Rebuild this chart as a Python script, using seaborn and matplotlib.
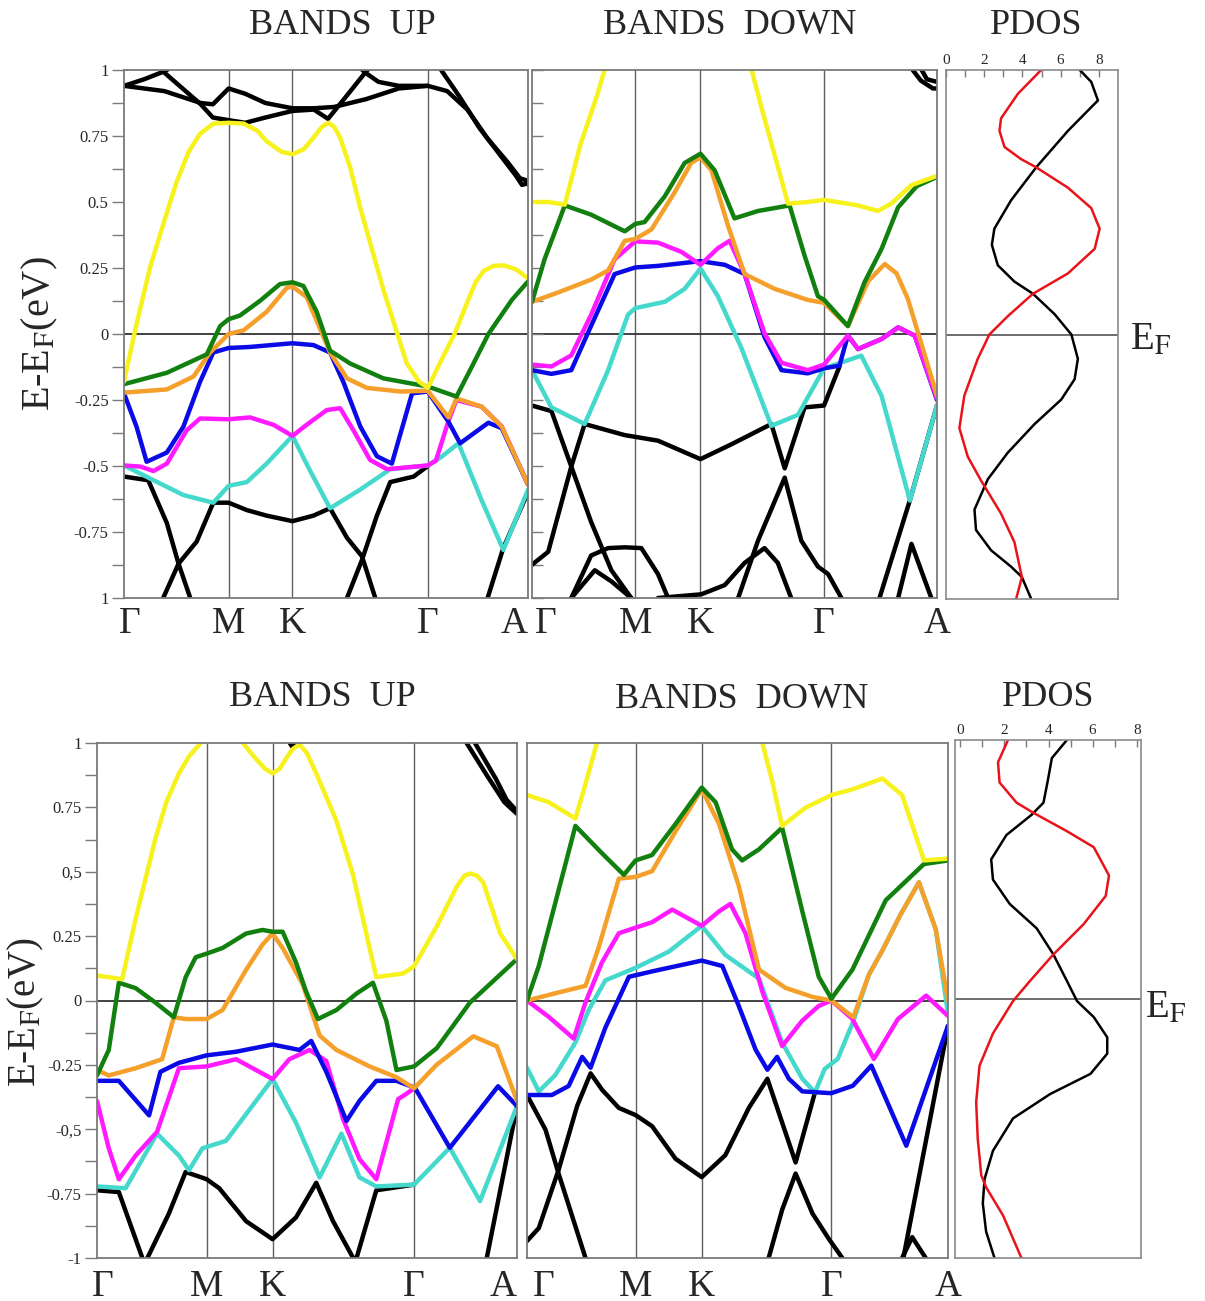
import matplotlib
matplotlib.use("Agg")
import matplotlib.pyplot as plt
import matplotlib.transforms as mtransforms
import seaborn as sns
import pandas as pd
import numpy as np

# ---------------- DATA ----------------
K_LABELS = ["Γ", "M", "K", "Γ", "A"]
TL_KPTS = [0, 0.259, 0.417, 0.752, 1.0]
TM_KPTS = [0, 0.255, 0.416, 0.721, 1.0]
BL_KPTS = [0, 0.261, 0.418, 0.755, 1.0]
BM_KPTS = [0, 0.258, 0.415, 0.723, 1.0]

Y_TICKS = [-1, -0.75, -0.5, -0.25, 0, 0.25, 0.5, 0.75, 1]
TL_YLABELS = ["1", "-0.75", "-0.5", "-0.25", "0", "0.25", "0.5", "0.75", "1"]
BL_YLABELS = ["-1", "-0.75", "-0,5", "-0.25", "0", "0.25", "0,5", "0.75", "1"]
PDOS_TICKS = [0, 2, 4, 6, 8]

# --- top row, spin up ---
TL_YELLOW = [(0, -0.18), (0.03, 0.03), (0.064, 0.25), (0.10, 0.43), (0.130, 0.575), (0.16, 0.69), (0.188, 0.758),
             (0.221, 0.797), (0.259, 0.80), (0.296, 0.797), (0.33, 0.77), (0.353, 0.73), (0.39, 0.69), (0.417, 0.681),
             (0.445, 0.70), (0.469, 0.744), (0.49, 0.785), (0.506, 0.80), (0.52, 0.785), (0.535, 0.744),
             (0.56, 0.63), (0.585, 0.477), (0.642, 0.168), (0.700, -0.112), (0.73, -0.18), (0.752, -0.204),
             (0.786, -0.098), (0.819, 0.003), (0.852, 0.129), (0.870, 0.195), (0.890, 0.239), (0.915, 0.258),
             (0.94, 0.26), (0.97, 0.245), (1.0, 0.211)]
TL_GREEN = [(0, -0.19), (0.106, -0.147), (0.205, -0.077), (0.238, 0.03), (0.259, 0.056), (0.287, 0.07), (0.337, 0.126),
            (0.386, 0.189), (0.417, 0.196), (0.444, 0.182), (0.477, 0.084), (0.51, -0.063), (0.56, -0.112),
            (0.642, -0.168), (0.752, -0.199), (0.823, -0.237), (0.861, -0.124), (0.902, 0.0), (0.96, 0.129), (1.0, 0.199)]
TL_ORANGE = [(0, -0.222), (0.106, -0.21), (0.172, -0.161), (0.213, -0.07), (0.259, 0.0), (0.296, 0.014), (0.353, 0.084),
             (0.403, 0.175), (0.417, 0.18), (0.452, 0.14), (0.51, -0.07), (0.552, -0.168), (0.601, -0.204),
             (0.684, -0.218), (0.752, -0.215), (0.803, -0.316), (0.823, -0.244), (0.885, -0.275), (0.935, -0.351),
             (1.0, -0.57)]
TL_BLUE = [(0, -0.225), (0.031, -0.351), (0.056, -0.484), (0.106, -0.449), (0.147, -0.351), (0.188, -0.182),
           (0.221, -0.07), (0.259, -0.053), (0.312, -0.049), (0.417, -0.035), (0.469, -0.042), (0.51, -0.07),
           (0.543, -0.182), (0.585, -0.351), (0.626, -0.463), (0.663, -0.491), (0.713, -0.225), (0.752, -0.218),
           (0.803, -0.332), (0.832, -0.414), (0.902, -0.336), (0.935, -0.357), (1.0, -0.57)]
TL_MAGENTA = [(0, -0.498), (0.04, -0.502), (0.073, -0.519), (0.106, -0.491), (0.155, -0.365), (0.188, -0.32),
              (0.259, -0.323), (0.312, -0.316), (0.37, -0.344), (0.417, -0.386), (0.452, -0.344), (0.502, -0.288),
              (0.535, -0.281), (0.568, -0.365), (0.609, -0.477), (0.651, -0.512), (0.752, -0.498), (0.772, -0.48),
              (0.803, -0.33), (0.823, -0.25), (0.885, -0.275), (0.935, -0.35), (1.0, -0.57)]
TL_CYAN = [(0, -0.498), (0.064, -0.547), (0.147, -0.61), (0.221, -0.639), (0.259, -0.575), (0.304, -0.561),
           (0.353, -0.491), (0.417, -0.386), (0.461, -0.519), (0.51, -0.66), (0.585, -0.589), (0.659, -0.512),
           (0.752, -0.498), (0.786, -0.465), (0.828, -0.414), (0.885, -0.629), (0.939, -0.818), (1.0, -0.59)]
TL_BLACK_1 = [(0, 0.94), (0.05, 0.965), (0.1, 0.995), (0.14, 1.03)]
TL_BLACK_2 = [(0.09, 1.03), (0.1, 0.99), (0.19, 0.87), (0.22, 0.82), (0.259, 0.81), (0.30, 0.80), (0.35, 0.82),
              (0.417, 0.845), (0.47, 0.85), (0.505, 0.815), (0.55, 0.9), (0.597, 0.99), (0.62, 1.03)]
TL_BLACK_3 = [(0, 0.94), (0.1, 0.92), (0.19, 0.875), (0.22, 0.87), (0.259, 0.93), (0.3, 0.91), (0.35, 0.875),
              (0.417, 0.855), (0.47, 0.855), (0.52, 0.86), (0.6, 0.89), (0.68, 0.93), (0.752, 0.94), (0.8, 0.92),
              (0.85, 0.85), (0.9, 0.74), (0.95, 0.65), (0.98, 0.59), (1.0, 0.58)]
TL_BLACK_4 = [(0.57, 1.03), (0.597, 0.99), (0.63, 0.955), (0.68, 0.94), (0.752, 0.94)]
TL_BLACK_5 = [(0.785, 1.0), (0.83, 0.9), (0.88, 0.78), (0.93, 0.68), (0.97, 0.6), (0.985, 0.565), (1.0, 0.57)]
TL_BLACK_6 = [(0, -0.54), (0.06, -0.554), (0.106, -0.716), (0.135, -0.87), (0.164, -1.0)]
TL_BLACK_7 = [(0.097, -1.0), (0.135, -0.87), (0.18, -0.786), (0.221, -0.639), (0.259, -0.639), (0.304, -0.667),
              (0.353, -0.688), (0.417, -0.709), (0.469, -0.688), (0.51, -0.66), (0.552, -0.772), (0.589, -0.842),
              (0.622, -1.0)]
TL_BLACK_8 = [(0.552, -1.0), (0.589, -0.856), (0.626, -0.688), (0.659, -0.561), (0.717, -0.54), (0.752, -0.5)]
TL_BLACK_9 = [(0.9, -1.0), (0.939, -0.81), (1.0, -0.6)]

# --- top row, spin down ---
TM_YELLOW_1 = [(0, 0.5), (0.04, 0.5), (0.081, 0.49), (0.12, 0.72), (0.16, 0.9), (0.185, 1.03)]
TM_YELLOW_2 = [(0.537, 1.03), (0.574, 0.816), (0.607, 0.634), (0.632, 0.494), (0.681, 0.5), (0.721, 0.508),
               (0.805, 0.487), (0.854, 0.466), (0.887, 0.494), (0.937, 0.564), (1.0, 0.599)]
TM_GREEN = [(0, 0.122), (0.031, 0.283), (0.081, 0.487), (0.146, 0.452), (0.229, 0.389), (0.255, 0.417),
            (0.278, 0.424), (0.328, 0.522), (0.377, 0.648), (0.416, 0.683), (0.451, 0.62), (0.5, 0.438),
            (0.558, 0.466), (0.636, 0.487), (0.673, 0.297), (0.706, 0.143), (0.721, 0.13), (0.78, 0.03),
            (0.821, 0.196), (0.863, 0.322), (0.904, 0.48), (0.95, 0.56), (1.0, 0.595)]
TM_ORANGE = [(0, 0.122), (0.064, 0.157), (0.146, 0.206), (0.188, 0.241), (0.229, 0.353), (0.255, 0.36),
             (0.295, 0.396), (0.352, 0.536), (0.393, 0.648), (0.416, 0.669), (0.443, 0.62), (0.484, 0.41),
             (0.525, 0.227), (0.599, 0.171), (0.681, 0.129), (0.721, 0.118), (0.78, 0.03), (0.83, 0.2),
             (0.871, 0.265), (0.9, 0.23), (0.928, 0.133), (0.96, -0.03), (1.0, -0.234)]
TM_BLUE = [(0, -0.137), (0.048, -0.151), (0.097, -0.137), (0.146, 0.031), (0.204, 0.227), (0.255, 0.252),
           (0.311, 0.258), (0.416, 0.276), (0.476, 0.262), (0.525, 0.227), (0.574, -0.011), (0.616, -0.137),
           (0.681, -0.149), (0.721, -0.13), (0.759, -0.12), (0.78, -0.006), (0.805, -0.057), (0.863, -0.019),
           (0.904, 0.025), (0.945, -0.006), (1.0, -0.25)]
TM_MAGENTA = [(0, -0.116), (0.048, -0.123), (0.097, -0.081), (0.146, 0.073), (0.204, 0.283), (0.255, 0.351),
              (0.311, 0.346), (0.369, 0.311), (0.416, 0.262), (0.459, 0.325), (0.488, 0.353), (0.525, 0.227),
              (0.574, 0.003), (0.616, -0.109), (0.681, -0.137), (0.721, -0.116), (0.78, -0.006), (0.805, -0.057),
              (0.863, -0.019), (0.904, 0.025), (0.945, -0.006), (1.0, -0.245)]
TM_CYAN = [(0, -0.137), (0.048, -0.278), (0.13, -0.341), (0.188, -0.137), (0.237, 0.073), (0.255, 0.098),
           (0.328, 0.122), (0.377, 0.171), (0.416, 0.248), (0.459, 0.143), (0.517, -0.053), (0.591, -0.348),
           (0.657, -0.306), (0.721, -0.13), (0.76, -0.11), (0.813, -0.082), (0.863, -0.234), (0.933, -0.631),
           (1.0, -0.27)]
TM_BLACK_1 = [(0, -0.271), (0.048, -0.292), (0.097, -0.502), (0.146, -0.712), (0.196, -0.895), (0.245, -1.0)]
TM_BLACK_2 = [(0, -0.874), (0.04, -0.825), (0.097, -0.502), (0.13, -0.341), (0.229, -0.383), (0.311, -0.404),
              (0.416, -0.474), (0.492, -0.418), (0.591, -0.341), (0.624, -0.509), (0.673, -0.278), (0.721, -0.271),
              (0.76, -0.12)]
TM_BLACK_3 = [(0.509, -1.0), (0.558, -0.783), (0.624, -0.544), (0.665, -0.783), (0.706, -0.881), (0.731, -0.909),
              (0.764, -1.0)]
TM_BLACK_4 = [(0.097, -1.0), (0.146, -0.839), (0.188, -0.811), (0.229, -0.808), (0.27, -0.811), (0.311, -0.909),
              (0.336, -1.0)]
TM_BLACK_5 = [(0.097, -1.0), (0.155, -0.895), (0.196, -0.937), (0.245, -1.0)]
TM_BLACK_6 = [(0.311, -1.0), (0.418, -0.986), (0.476, -0.951), (0.525, -0.867), (0.574, -0.811), (0.607, -0.867),
              (0.64, -1.0)]
TM_BLACK_7 = [(0.858, -1.0), (0.933, -0.63), (1.0, -0.27)]
TM_BLACK_8 = [(0.904, -1.0), (0.937, -0.795), (0.986, -1.0)]
TM_BLACK_9 = [(0.93, 1.02), (0.96, 0.96), (0.99, 0.93), (1.0, 0.93)]
TM_BLACK_10 = [(0.955, 1.02), (0.975, 0.965), (1.0, 0.955)]

# --- bottom row, spin up ---
BL_YELLOW_1 = [(0, 0.097), (0.06, 0.083), (0.092, 0.317), (0.139, 0.628), (0.165, 0.77), (0.195, 0.882),
               (0.22, 0.95), (0.247, 1.0), (0.26, 1.03)]
BL_YELLOW_2 = [(0.335, 1.03), (0.347, 1.0), (0.378, 0.939), (0.40, 0.90), (0.418, 0.882), (0.435, 0.90),
               (0.45, 0.939), (0.465, 0.975), (0.482, 0.995), (0.50, 0.96), (0.522, 0.882), (0.57, 0.698),
               (0.61, 0.486), (0.649, 0.204), (0.665, 0.091), (0.729, 0.105), (0.755, 0.133), (0.809, 0.288),
               (0.857, 0.444), (0.875, 0.485), (0.888, 0.493), (0.905, 0.485), (0.92, 0.457), (0.96, 0.26),
               (1.0, 0.161)]
BL_GREEN = [(0, -0.291), (0.028, -0.192), (0.052, 0.069), (0.092, 0.048), (0.139, -0.008), (0.183, -0.065),
            (0.211, 0.09), (0.235, 0.168), (0.261, 0.182), (0.299, 0.204), (0.355, 0.26), (0.394, 0.274),
            (0.418, 0.267), (0.442, 0.267), (0.474, 0.147), (0.498, 0.034), (0.526, -0.072), (0.57, -0.037),
            (0.618, 0.027), (0.657, 0.069), (0.689, -0.079), (0.713, -0.27), (0.755, -0.256), (0.809, -0.185),
            (0.888, -0.008), (1.0, 0.161)]
BL_ORANGE = [(0, -0.27), (0.028, -0.291), (0.092, -0.263), (0.155, -0.228), (0.183, -0.065), (0.211, -0.072),
             (0.261, -0.072), (0.299, -0.037), (0.355, 0.119), (0.394, 0.217), (0.418, 0.26), (0.442, 0.204),
             (0.49, 0.062), (0.53, -0.136), (0.57, -0.192), (0.649, -0.256), (0.713, -0.298), (0.755, -0.341),
             (0.809, -0.249), (0.896, -0.139), (0.952, -0.178), (1.0, -0.39)]
BL_BLUE = [(0, -0.312), (0.052, -0.312), (0.124, -0.446), (0.151, -0.277), (0.195, -0.242), (0.261, -0.213),
           (0.331, -0.199), (0.418, -0.171), (0.482, -0.192), (0.51, -0.157), (0.546, -0.277), (0.594, -0.468),
           (0.625, -0.39), (0.665, -0.312), (0.713, -0.312), (0.757, -0.339), (0.84, -0.572), (0.955, -0.333),
           (1.0, -0.41)]
BL_MAGENTA = [(0, -0.39), (0.028, -0.574), (0.052, -0.694), (0.092, -0.602), (0.143, -0.51), (0.195, -0.263),
              (0.261, -0.256), (0.331, -0.228), (0.418, -0.305), (0.458, -0.228), (0.506, -0.192), (0.546, -0.235),
              (0.586, -0.461), (0.625, -0.616), (0.665, -0.694), (0.717, -0.383), (0.737, -0.362), (0.755, -0.341)]
BL_CYAN = [(0, -0.722), (0.068, -0.729), (0.143, -0.517), (0.195, -0.602), (0.219, -0.659), (0.251, -0.574),
           (0.307, -0.545), (0.418, -0.305), (0.474, -0.475), (0.53, -0.687), (0.582, -0.517), (0.625, -0.687),
           (0.665, -0.722), (0.755, -0.715), (0.84, -0.572), (0.912, -0.779), (1.0, -0.41)]
BL_BLACK_1 = [(0, -0.737), (0.052, -0.744), (0.108, -1.0)]
BL_BLACK_2 = [(0.12, -1.0), (0.171, -0.828), (0.211, -0.666), (0.261, -0.694), (0.291, -0.729), (0.355, -0.857),
              (0.418, -0.927), (0.474, -0.842), (0.522, -0.708), (0.562, -0.857), (0.61, -1.0)]
BL_BLACK_3 = [(0.618, -1.0), (0.665, -0.737), (0.755, -0.715)]
BL_BLACK_4 = [(0.928, -1.0), (1.0, -0.41)]
BL_BLACK_5 = [(0.88, 1.0), (0.93, 0.87), (0.97, 0.77), (1.0, 0.725)]
BL_BLACK_6 = [(0.90, 1.0), (0.95, 0.86), (0.975, 0.78), (1.0, 0.735)]
BL_BLACK_7 = [(0.455, 1.01), (0.465, 0.985), (0.475, 0.995), (0.48, 1.01)]

# --- bottom row, spin down ---
BM_YELLOW_1 = [(0, 0.798), (0.052, 0.77), (0.115, 0.707), (0.139, 0.841), (0.166, 1.0), (0.17, 1.03)]
BM_YELLOW_2 = [(0.555, 1.03), (0.559, 1.0), (0.582, 0.855), (0.606, 0.678), (0.662, 0.749), (0.723, 0.798),
               (0.773, 0.82), (0.844, 0.862), (0.891, 0.798), (0.943, 0.544), (1.0, 0.551)]
BM_GREEN = [(0, 0.0), (0.028, 0.134), (0.115, 0.678), (0.178, 0.572), (0.23, 0.488), (0.258, 0.544),
            (0.297, 0.565), (0.353, 0.686), (0.415, 0.827), (0.448, 0.77), (0.487, 0.587), (0.511, 0.544),
            (0.551, 0.587), (0.606, 0.671), (0.654, 0.346), (0.693, 0.092), (0.723, 0.007), (0.773, 0.12),
            (0.852, 0.389), (0.943, 0.53), (1.0, 0.544)]
BM_ORANGE = [(0, 0.0), (0.067, 0.028), (0.139, 0.057), (0.17, 0.205), (0.218, 0.473), (0.258, 0.48),
             (0.297, 0.502), (0.353, 0.657), (0.415, 0.82), (0.456, 0.686), (0.503, 0.445), (0.551, 0.12),
             (0.614, 0.049), (0.678, 0.014), (0.723, 0.0), (0.775, -0.065), (0.812, 0.1), (0.846, 0.2),
             (0.886, 0.33), (0.931, 0.459), (0.971, 0.276), (1.0, 0.0)]
BM_MAGENTA = [(0, 0.0), (0.052, -0.064), (0.111, -0.148), (0.139, -0.007), (0.178, 0.148), (0.218, 0.261),
              (0.258, 0.283), (0.297, 0.304), (0.345, 0.353), (0.415, 0.29), (0.456, 0.346), (0.483, 0.375),
              (0.519, 0.261), (0.559, 0.035), (0.606, -0.177), (0.654, -0.078), (0.693, -0.021), (0.723, 0.0),
              (0.772, -0.07), (0.824, -0.227), (0.881, -0.072), (0.948, 0.019), (1.0, -0.06)]
BM_CYAN = [(0, -0.261), (0.028, -0.353), (0.067, -0.29), (0.115, -0.163), (0.147, -0.035), (0.186, 0.078),
           (0.258, 0.127), (0.337, 0.19), (0.415, 0.29), (0.471, 0.177), (0.551, 0.085), (0.606, -0.163),
           (0.654, -0.304), (0.684, -0.357), (0.707, -0.266), (0.738, -0.227), (0.774, -0.085), (0.812, 0.1),
           (0.846, 0.2), (0.886, 0.33), (0.931, 0.459), (0.971, 0.276), (1.0, -0.05)]
BM_BLUE = [(0, -0.367), (0.059, -0.367), (0.099, -0.332), (0.131, -0.219), (0.151, -0.261), (0.186, -0.106),
           (0.242, 0.092), (0.297, 0.113), (0.415, 0.155), (0.464, 0.134), (0.503, -0.021), (0.543, -0.191),
           (0.571, -0.269), (0.594, -0.219), (0.622, -0.304), (0.654, -0.353), (0.723, -0.36), (0.774, -0.331),
           (0.818, -0.253), (0.901, -0.564), (1.0, -0.098)]
BM_BLACK_1 = [(0, -0.934), (0.028, -0.884), (0.075, -0.658), (0.119, -0.41), (0.151, -0.283), (0.178, -0.346),
              (0.218, -0.417), (0.258, -0.445), (0.297, -0.488), (0.353, -0.615), (0.415, -0.686), (0.471, -0.601),
              (0.527, -0.417), (0.571, -0.304), (0.606, -0.474), (0.638, -0.629), (0.684, -0.357)]
BM_BLACK_2 = [(0, -0.367), (0.044, -0.502), (0.075, -0.672), (0.139, -1.0)]
BM_BLACK_3 = [(0.574, -1.0), (0.606, -0.813), (0.638, -0.672), (0.678, -0.827), (0.717, -0.926), (0.749, -1.0)]
BM_BLACK_4 = [(0.894, -1.0), (1.0, -0.1)]
BM_BLACK_5 = [(0.891, -1.0), (0.915, -0.919), (0.947, -1.0)]

# --- PDOS (dos value, energy) ---
TP_BLACK = [(7.0, 1.0), (7.6, 0.955), (7.95, 0.885), (6.38, 0.77), (4.72, 0.632), (3.41, 0.508), (2.53, 0.40),
            (2.4, 0.339), (2.71, 0.262), (3.58, 0.2), (4.55, 0.154), (5.68, 0.077), (6.56, 0.0), (6.9, -0.092),
            (6.73, -0.169), (6.03, -0.246), (4.63, -0.339), (3.23, -0.447), (2.19, -0.547), (1.49, -0.662),
            (1.57, -0.739), (2.36, -0.816), (3.41, -0.878), (3.97, -0.917), (4.46, -1.0)]
TP_RED = [(4.98, 1.0), (3.76, 0.91), (2.88, 0.817), (2.8, 0.77), (3.06, 0.709), (3.93, 0.663), (4.72, 0.632),
          (6.38, 0.555), (7.6, 0.478), (8.04, 0.40), (7.78, 0.324), (6.38, 0.231), (4.55, 0.154), (3.23, 0.069),
          (2.27, 0.0), (1.66, -0.092), (0.96, -0.231), (0.7, -0.354), (1.14, -0.462), (1.84, -0.553),
          (2.88, -0.677), (3.58, -0.785), (3.97, -0.917), (3.67, -1.0)]
BP_BLACK = [(4.83, 1.0), (4.15, 0.93), (3.95, 0.836), (3.77, 0.758), (3.23, 0.711), (2.09, 0.633), (1.4, 0.539),
            (1.48, 0.461), (2.24, 0.367), (3.46, 0.273), (4.22, 0.172), (4.83, 0.07), (5.29, -0.008),
            (6.05, -0.07), (6.66, -0.148), (6.66, -0.211), (5.9, -0.289), (4.07, -0.367), (2.39, -0.461),
            (1.48, -0.586), (1.1, -0.695), (1.02, -0.789), (1.17, -0.898), (1.55, -1.0)]
BP_RED = [(2.16, 1.0), (1.71, 0.914), (1.78, 0.836), (2.55, 0.758), (3.31, 0.719), (4.83, 0.648), (6.05, 0.586),
          (6.74, 0.477), (6.59, 0.398), (5.59, 0.289), (4.22, 0.172), (3.16, 0.07), (2.39, -0.008),
          (1.48, -0.133), (0.87, -0.258), (0.72, -0.398), (0.79, -0.539), (0.95, -0.68), (1.17, -0.727),
          (1.94, -0.836), (2.77, -1.0)]

# ---------------- STYLE ----------------
sns.set_style("white")
plt.rcParams["font.family"] = ["Liberation Serif", "DejaVu Serif"]
plt.rcParams["mathtext.fontset"] = "stix"

C_YEL = "#f7f21e"
C_GRN = "#12800f"
C_ORG = "#f5a02a"
C_BLU = "#0a0ae6"
C_MAG = "#ff1aff"
C_CYN = "#45d8cc"
C_BLK = "#000000"
C_RED = "#e8141a"
SPINE = "#7a7a7a"

W, H = 1205, 1301
fig = plt.figure(figsize=(W / 100, H / 100), dpi=100)


def rect(x0, y0, x1, y1):
    return [x0 / W, 1 - y1 / H, (x1 - x0) / W, (y1 - y0) / H]


def draw(ax, pts, color, lw=3.2):
    df = pd.DataFrame(pts, columns=["x", "y"])
    sns.lineplot(data=df, x="x", y="y", ax=ax, color=color, lw=lw, sort=False,
                 estimator=None, legend=False, solid_joinstyle="round", solid_capstyle="round")


def band_panel(r, kpts, blacks, colored, ylabels=None, inner_ticks=False, kha=None, kpad=6, shift=None):
    ax = fig.add_axes(rect(*r))
    for b in blacks:
        draw(ax, b, C_BLK)
    for pts, c in colored:
        draw(ax, pts, c)
    ax.set_xlim(0, 1)
    ax.set_ylim(-1, 1)
    for kp in kpts[1:-1]:
        ax.axvline(kp, color="#606060", lw=1.0, zorder=0.5)
    ax.axhline(0, color="#333333", lw=1.3, zorder=0.5)
    ax.set_xticks(kpts)
    ax.set_xticklabels(K_LABELS, fontsize=27)
    ax.tick_params(axis="x", length=0, pad=kpad)
    labs = ax.get_xticklabels()
    if kha:
        for lab, ha in zip(labs, kha):
            lab.set_ha(ha)
    if shift:
        for i, dx in shift.items():
            off = mtransforms.ScaledTranslation(dx / 100, 0, fig.dpi_scale_trans)
            labs[i].set_transform(labs[i].get_transform() + off)
    ax.set_yticks(Y_TICKS)
    ax.set_yticks(np.arange(-0.875, 1.0, 0.25), minor=True)
    if ylabels is not None:
        ax.set_yticklabels(ylabels, fontsize=12)
        ax.tick_params(axis="y", which="both", direction="out", length=9, width=1.0, color=SPINE, left=True, pad=2)
    elif inner_ticks:
        ax.set_yticklabels([])
        ax.tick_params(axis="y", which="both", direction="in", length=8, width=1.0, color=SPINE, left=True)
    else:
        ax.set_yticklabels([])
        ax.tick_params(axis="y", which="both", length=0)
    ax.set_xlabel("")
    ax.set_ylabel("")
    for s in ax.spines.values():
        s.set_color(SPINE)
        s.set_linewidth(1.3)
    return ax


def pdos_panel(r, black, red, xlim):
    ax = fig.add_axes(rect(*r))
    draw(ax, black, C_BLK, lw=1.8)
    draw(ax, red, C_RED, lw=1.8)
    ax.axhline(0, color="#555555", lw=1.2, zorder=0.5)
    ax.set_xlim(*xlim)
    ax.set_ylim(-1, 1)
    ax.set_yticks([])
    ax.set_xticks(PDOS_TICKS)
    ax.set_xticklabels([str(t) for t in PDOS_TICKS], fontsize=11)
    ax.set_xticks([1, 3, 5, 7], minor=True)
    ax.xaxis.set_ticks_position("top")
    ax.tick_params(axis="x", which="both", direction="in", length=5, width=1.0, color=SPINE,
                   top=True, bottom=False, labeltop=True, labelbottom=False, pad=2)
    ax.set_xlabel("")
    ax.set_ylabel("")
    for s in ax.spines.values():
        s.set_color("#8a8a8a")
        s.set_linewidth(1.2)
    return ax


# ---- top row ----
band_panel((124, 70, 528, 598), TL_KPTS,
           [TL_BLACK_1, TL_BLACK_2, TL_BLACK_3, TL_BLACK_4, TL_BLACK_5, TL_BLACK_6, TL_BLACK_7, TL_BLACK_8, TL_BLACK_9],
           [(TL_CYAN, C_CYN), (TL_MAGENTA, C_MAG), (TL_BLUE, C_BLU), (TL_ORANGE, C_ORG), (TL_GREEN, C_GRN),
            (TL_YELLOW, C_YEL)],
           ylabels=TL_YLABELS, kha=["center", "center", "center", "center", "right"], shift={0: 6})
band_panel((532, 70, 937, 598), TM_KPTS,
           [TM_BLACK_1, TM_BLACK_2, TM_BLACK_3, TM_BLACK_4, TM_BLACK_5, TM_BLACK_6, TM_BLACK_7, TM_BLACK_8,
            TM_BLACK_9, TM_BLACK_10],
           [(TM_CYAN, C_CYN), (TM_BLUE, C_BLU), (TM_MAGENTA, C_MAG), (TM_ORANGE, C_ORG), (TM_GREEN, C_GRN),
            (TM_YELLOW_1, C_YEL), (TM_YELLOW_2, C_YEL)],
           inner_ticks=True, kha=["left", "center", "center", "center", "center"], shift={0: 3})
pdos_panel((946, 70, 1118, 599), TP_BLACK, TP_RED, (0, 9.0))

# ---- bottom row ----
band_panel((97, 743, 517, 1258), BL_KPTS,
           [BL_BLACK_1, BL_BLACK_2, BL_BLACK_3, BL_BLACK_4, BL_BLACK_5, BL_BLACK_6, BL_BLACK_7],
           [(BL_CYAN, C_CYN), (BL_MAGENTA, C_MAG), (BL_BLUE, C_BLU), (BL_ORANGE, C_ORG), (BL_GREEN, C_GRN),
            (BL_YELLOW_1, C_YEL), (BL_YELLOW_2, C_YEL)],
           ylabels=BL_YLABELS, kha=["center", "center", "center", "center", "right"], kpad=8, shift={0: 6})
band_panel((527, 743, 948, 1258), BM_KPTS,
           [BM_BLACK_1, BM_BLACK_2, BM_BLACK_3, BM_BLACK_4, BM_BLACK_5],
           [(BM_CYAN, C_CYN), (BM_MAGENTA, C_MAG), (BM_BLUE, C_BLU), (BM_ORANGE, C_ORG), (BM_GREEN, C_GRN),
            (BM_YELLOW_1, C_YEL), (BM_YELLOW_2, C_YEL)],
           kha=["left", "center", "center", "center", "center"], kpad=8, shift={0: 6})
pdos_panel((955, 740, 1141, 1258), BP_BLACK, BP_RED, (-0.24, 8.19))

# ---- texts ----
def ftext(x, y, s, **kw):
    fig.text(x / W, 1 - y / H, s, **kw)

ftext(342, 25, "BANDS  UP", ha="center", va="center", fontsize=26)
ftext(730, 25, "BANDS  DOWN", ha="center", va="center", fontsize=26)
ftext(1036, 25, "PDOS", ha="center", va="center", fontsize=26)
ftext(322, 697, "BANDS  UP", ha="center", va="center", fontsize=26)
ftext(742, 700, "BANDS  DOWN", ha="center", va="center", fontsize=26)
ftext(1048, 697, "PDOS", ha="center", va="center", fontsize=26)

ftext(40, 334, r"E-E$_\mathrm{F}$(eV)", rotation=90, ha="center", va="center", fontsize=29)
ftext(26, 1012, r"E-E$_\mathrm{F}$(eV)", rotation=90, ha="center", va="center", fontsize=28)
ftext(1130, 340, r"E$_\mathrm{F}$", ha="left", va="center", fontsize=28)
ftext(1145, 1008, r"E$_\mathrm{F}$", ha="left", va="center", fontsize=28)

fig.savefig("out.png", dpi=100)
